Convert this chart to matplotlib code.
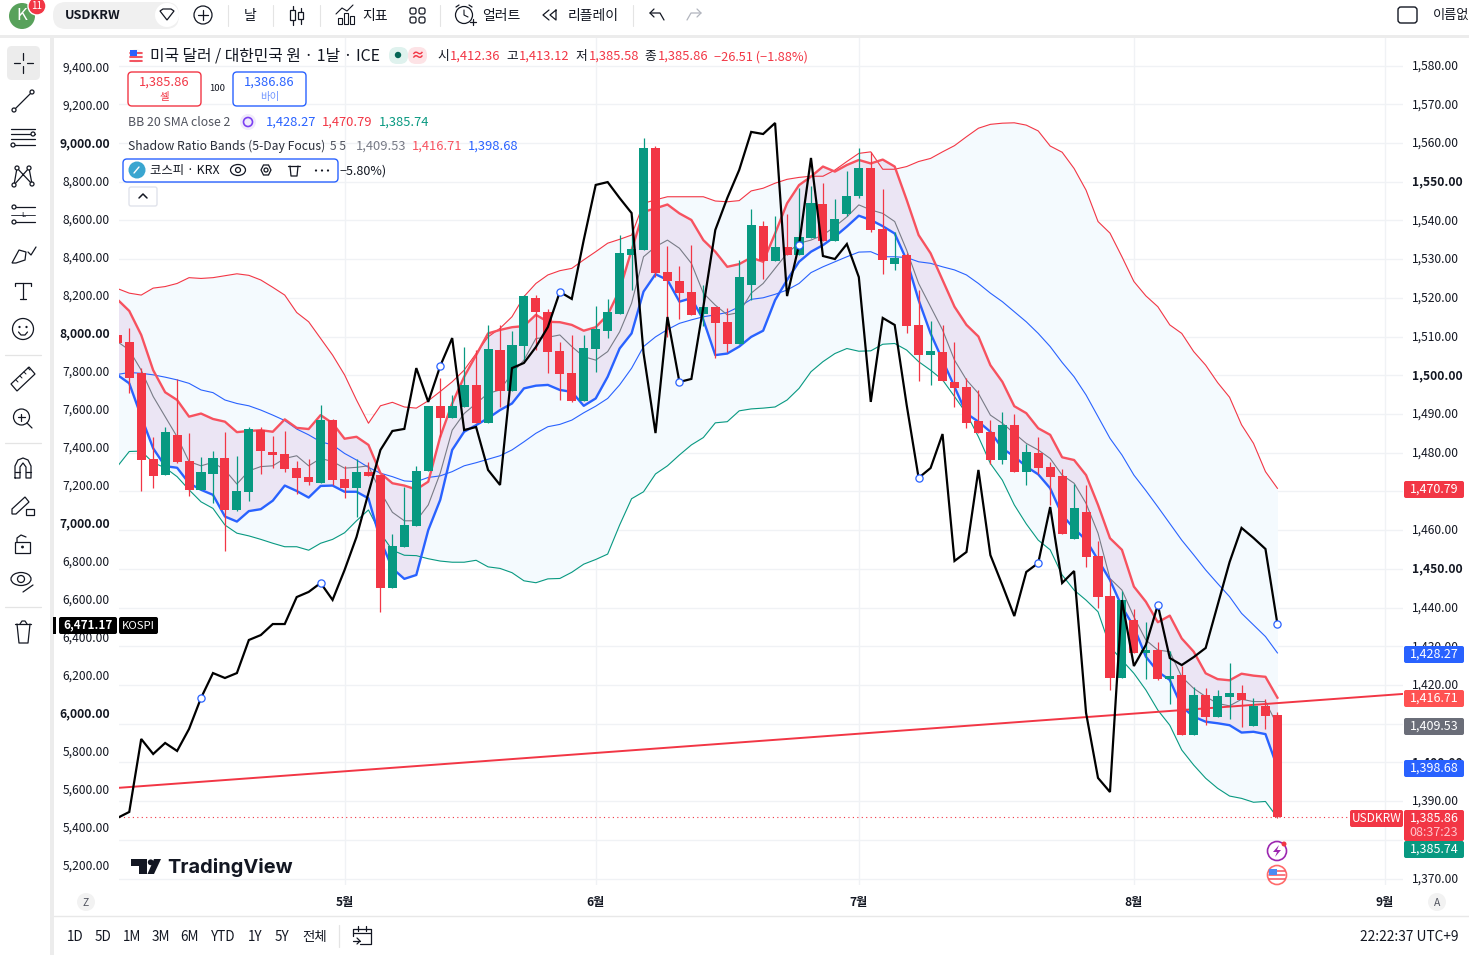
import matplotlib
matplotlib.use("Agg")
import matplotlib.pyplot as plt
from matplotlib.patches import FancyBboxPatch, Circle, Rectangle, Polygon, Ellipse
from matplotlib.transforms import ScaledTranslation

plt.rcParams['font.family'] = ['Noto Sans CJK KR', 'DejaVu Sans']

# ---------- data ----------
opens = [1510.4,1508.6,1500.5,1478.3,1474.3,1484.5,1477.8,1470.4,1474.6,1478.6,
 1465.3,1469.9,1485.8,1480.0,1479.6,1476.0,1473.7,1472.2,1488.4,1473.2,
 1470.9,1475.0,1474.3,1445.0,1455.7,1461.0,1475.3,1492.0,1489.0,1491.9,
 1497.5,1487.7,1506.5,1495.9,1507.5,1519.9,1516.3,1506.2,1500.6,1493.3,
 1506.8,1511.4,1515.8,1531.0,1532.3,1558.7,1526.7,1524.3,1521.5,1515.8,
 1517.6,1513.7,1508.1,1523.3,1538.5,1529.5,1533.1,1531.0,1535.4,1544.2,
 1534.7,1541.6,1546.3,1553.5,1537.8,1528.7,1531.0,1513.0,1505.2,1506.0,
 1498.2,1497.0,1488.2,1485.3,1478.1,1487.1,1475.0,1479.9,1476.3,1474.0,
 1457.7,1464.7,1453.3,1443.0,1421.8,1436.8,1428.2,1429.0,1421.5,1422.6,
 1407.1,1417.4,1411.7,1416.9,1417.9,1409.4,1414.6,1412.36]
closes = [1508.4,1499.4,1478.2,1474.0,1485.3,1477.7,1470.4,1475.0,1478.6,1465.3,
 1470.1,1486.1,1480.3,1479.4,1475.8,1473.5,1472.4,1488.4,1472.9,1470.9,
 1475.0,1474.0,1445.0,1455.9,1461.3,1475.3,1492.0,1489.0,1492.0,1497.5,
 1487.7,1506.8,1495.9,1507.8,1520.4,1516.3,1506.0,1500.3,1493.3,1507.0,
 1511.9,1516.3,1531.6,1532.6,1558.7,1526.4,1524.3,1521.2,1515.6,1517.6,
 1513.5,1508.1,1525.4,1538.8,1529.5,1533.1,1531.0,1535.7,1544.5,1534.7,
 1540.3,1546.3,1553.5,1537.5,1529.7,1530.3,1512.7,1505.2,1506.2,1498.5,
 1496.7,1487.7,1485.1,1478.1,1487.1,1475.0,1480.2,1476.0,1473.7,1459.0,
 1465.7,1453.0,1442.7,1421.8,1441.9,1428.2,1429.0,1421.5,1422.3,1407.1,
 1417.4,1411.7,1417.1,1417.9,1416.1,1414.6,1412.0,1385.86]
highs = [1511,1512.1,1501.8,1484.1,1486.5,1498.9,1485.0,1478.8,1480.3,1485.3,
 1479.1,1486.5,1486.5,1484.3,1485.6,1477.8,1478.3,1492.3,1488.7,1476.5,
 1478.3,1477.7,1474.3,1459.0,1471.0,1476.5,1492.0,1499.2,1494.8,1507.2,
 1506.5,1512.9,1512.9,1511.5,1520.7,1520.7,1517.1,1508.6,1510.4,1510.4,
 1517.9,1519.7,1536.2,1541.0,1561.3,1559.2,1533.4,1528.2,1533.6,1523.3,
 1517.6,1517.4,1529.8,1542.9,1539.8,1541.1,1541.6,1548.3,1548.9,1549.6,
 1545.5,1552.7,1558.7,1557.7,1548.1,1537.0,1531.5,1522.0,1514.0,1513.0,
 1508.6,1499.2,1496.2,1488.4,1490.5,1490.0,1482.2,1484.0,1477.6,1475.8,
 1471.9,1471.6,1457.2,1447.4,1444.3,1439.6,1436.2,1431.1,1428.8,1424.9,
 1419.5,1419.2,1418.7,1425.7,1420.0,1416.6,1416.4,1413.12]
lows = [1508,1495.3,1470.2,1470.9,1474.3,1477.4,1468.9,1470.4,1467.1,1454.7,
 1464.8,1467.6,1474.6,1476.1,1475.1,1469.3,1471.6,1472.2,1471.6,1468.4,
 1463.5,1474.0,1438.9,1445.0,1455.7,1461.0,1475.3,1484.0,1489.0,1491.9,
 1487.7,1487.7,1491.9,1495.9,1503.9,1506.5,1500.6,1493.6,1493.1,1493.3,
 1500.8,1509.6,1515.8,1522.0,1532.3,1525.4,1510.0,1514.5,1515.6,1512.6,
 1504.4,1506.1,1508.1,1519.4,1524.9,1529.5,1531.0,1531.0,1535.4,1534.7,
 1534.7,1541.1,1545.8,1537.0,1526.1,1527.2,1510.9,1498.5,1497.5,1498.5,
 1491.8,1486.4,1485.1,1477.1,1477.1,1475.0,1471.6,1474.5,1466.5,1459.0,
 1457.7,1450.5,1439.9,1418.7,1421.8,1428.2,1421.5,1421.3,1415.1,1407.1,
 1407.1,1409.6,1411.7,1411.2,1409.1,1409.4,1408.6,1385.58]

bb_upper = [1522.4,1521.2,1520.7,1522.5,1522.9,1523.7,1525.2,1525.0,1525.2,1525.7,
 1526.2,1525.8,1524.6,1522.7,1520.7,1516.2,1513.8,1509.5,1505.2,1500.1,
 1493.6,1487.6,1492.1,1493.0,1491.8,1491.5,1493.4,1495.8,1498.3,1501.3,
 1505.6,1509.9,1512.1,1515.1,1520.3,1523.7,1525.9,1527.0,1527.6,1529.8,
 1531.9,1534.1,1535.1,1536.2,1544.4,1545.3,1546.1,1546.1,1546.1,1546.1,
 1545.0,1544.8,1545.1,1547.6,1548.3,1549.6,1550.6,1551.1,1551.4,1551.4,
 1553.0,1555.2,1557.3,1557.7,1553.2,1553.2,1553.9,1555.2,1556.0,1557.7,
 1559.3,1561.6,1563.8,1564.8,1565.1,1565.2,1564.6,1563.1,1559.2,1557.6,
 1553.4,1547.8,1539.7,1536.7,1530.6,1524.2,1520.5,1517.7,1513.0,1510.8,
 1506.1,1502.6,1498.1,1494.3,1487.2,1482.4,1475.1,1470.79]
bb_basis = [1500.2,1500.7,1500.5,1500.1,1499.5,1498.8,1497.9,1496.2,1495.5,1493.6,
 1492.7,1492.1,1491.0,1489.7,1488.3,1486.1,1484.6,1482.8,1482.0,1479.8,
 1478.1,1476.2,1474.7,1473.8,1472.7,1472.5,1473.6,1474.0,1475.1,1476.6,
 1477.4,1478.3,1479.2,1480.7,1482.8,1485.0,1486.7,1487.3,1488.4,1490.3,
 1492.0,1494.0,1497.5,1501.8,1507.4,1509.9,1511.8,1513.4,1514.3,1515.1,
 1515.6,1516.2,1517.7,1519.6,1520.0,1520.9,1522.0,1523.7,1526.5,1528.0,
 1529.3,1530.6,1531.8,1531.9,1530.6,1530.6,1530.4,1529.3,1528.9,1528.0,
 1527.2,1525.9,1523.7,1521.2,1519.0,1516.4,1513.8,1510.8,1507.4,1503.3,
 1499.6,1494.9,1489.3,1483.7,1479.4,1474.2,1470.2,1466.0,1461.7,1457.4,
 1453.6,1449.7,1446.2,1442.8,1438.5,1435.5,1432.5,1428.27]
bb_lower = [1476.4,1480.3,1480.4,1477.4,1476.1,1473.8,1470.4,1467.3,1465.6,1461.3,
 1459.2,1458.5,1457.6,1456.6,1455.7,1455.7,1454.8,1456.6,1457.6,1459.3,
 1462.4,1465.2,1459.2,1454.8,1453.5,1453.4,1452.6,1452.0,1451.7,1451.7,
 1452.2,1450.5,1450.1,1449.0,1446.9,1446.4,1447.4,1447.5,1449.1,1451.2,
 1452.4,1453.8,1461.3,1468.1,1469.9,1474.5,1476.6,1479.4,1482.0,1483.9,
 1487.7,1488.0,1490.8,1491.3,1491.5,1491.8,1493.6,1496.6,1500.9,1503.5,
 1505.6,1506.9,1506.2,1506.3,1508.0,1508.2,1506.5,1503.5,1501.3,1498.8,
 1494.5,1490.1,1484.1,1477.2,1472.9,1466.5,1461.6,1457.4,1454.9,1448.4,
 1444.5,1441.9,1438.9,1429.9,1426.4,1423.0,1418.7,1413.5,1409.6,1403.2,
 1399.3,1395.9,1393.3,1391.3,1390.7,1389.7,1389.9,1385.74]
sr_upper = [1519.6,1516.6,1510.4,1501.3,1495.6,1493.6,1489.3,1490.1,1488.7,1488.0,
 1485.3,1485.6,1485.8,1485.4,1488.6,1486.4,1486.1,1489.7,1487.6,1483.6,
 1484.1,1482.0,1474.7,1472.1,1471.5,1470.5,1472.5,1484.1,1492.7,1499.6,
 1505.2,1510.8,1511.7,1512.4,1512.7,1515.6,1513.8,1513.7,1513.0,1511.5,
 1512.4,1515.6,1522.0,1532.3,1542.2,1543.1,1544.1,1541.8,1540.1,1534.9,
 1531.9,1528.0,1528.7,1530.4,1529.3,1536.6,1544.4,1549.1,1551.3,1553.9,
 1552.6,1554.3,1555.6,1554.7,1555.7,1553.9,1545.3,1536.2,1531.5,1524.6,
 1517.7,1513.0,1510.0,1502.6,1498.3,1492.0,1490.2,1486.3,1484.6,1478.8,
 1478.1,1474.2,1466.5,1457.9,1454.9,1445.4,1441.5,1436.2,1437.9,1432.0,
 1428.6,1423.0,1421.5,1421.2,1422.9,1422.4,1422.1,1416.71]
sr_lower = [1500.1,1497.9,1489.3,1481.1,1476.5,1476.1,1472.1,1470.4,1469.1,1463.5,
 1462.2,1464.9,1465.4,1467.6,1471.5,1470.1,1468.4,1471.4,1471.5,1469.9,
 1469.9,1468.2,1457.4,1450.1,1447.4,1448.4,1460.0,1467.8,1480.7,1485.4,
 1487.1,1488.9,1491.0,1492.7,1496.6,1497.3,1497.5,1496.2,1495.7,1492.1,
 1494.0,1499.6,1506.9,1510.8,1521.6,1526.1,1524.6,1519.0,1519.9,1514.3,
 1505.2,1505.6,1507.4,1509.9,1511.5,1519.4,1524.6,1529.3,1531.9,1533.6,
 1535.8,1538.4,1541.2,1540.1,1538.5,1536.6,1529.7,1519.4,1510.8,1503.9,
 1497.0,1490.1,1488.0,1485.4,1481.1,1479.0,1476.4,1474.4,1470.8,1463.9,
 1460.4,1457.4,1452.3,1447.1,1440.2,1435.0,1427.3,1423.4,1421.3,1414.4,
 1411.8,1410.5,1410.1,1409.6,1407.7,1407.9,1407.3,1398.68]
sr_mid = [1508.7,1506.5,1501.3,1494.5,1489.3,1484.1,1477.7,1476.6,1477.5,1475.5,
 1471.9,1475.3,1476.4,1476.6,1478.5,1479.2,1476.6,1478.5,1477.7,1476.0,
 1476.2,1476.6,1469.9,1464.6,1462.4,1462.4,1466.5,1474.7,1485.8,1490.1,
 1492.7,1495.3,1496.2,1500.5,1503.9,1509.5,1509.8,1510.4,1507.4,1504.8,
 1503.9,1506.1,1511.2,1518.6,1530.6,1533.2,1534.9,1532.8,1528.9,1521.2,
 1518.1,1515.6,1516.2,1521.2,1523.7,1527.6,1531.5,1534.1,1534.9,1536.2,
 1538.4,1540.9,1544.0,1542.7,1541.8,1539.7,1532.3,1523.7,1517.7,1511.7,
 1503.9,1498.8,1495.3,1489.7,1487.6,1485.0,1482.4,1480.7,1478.5,1474.2,
 1472.1,1466.9,1459.2,1447.5,1444.5,1437.6,1431.6,1429.0,1428.6,1422.1,
 1419.1,1417.0,1415.2,1414.6,1416.3,1415.7,1415.7,1409.53]
kospi = [5450,5482,5866,5787,5845,5803,5919,6082,6213,6187,
 6213,6387,6413,6471,6471,6613,6640,6687,6598,6755,
 6929,7161,7387,7487,7498,7818,7640,7829,7976,7492,
 7508,7282,7203,7818,7845,7929,8034,8219,8182,8492,
 8782,8797,8713,8634,7897,7476,8087,7745,7761,8140,
 8545,8713,8861,9061,9050,9108,8197,8466,8924,8408,
 8392,8471,8297,7640,8082,8045,7624,7240,7292,7471,
 6803,6850,7282,6834,6676,6513,6745,6792,7087,6687,
 6750,6003,5661,5587,6597,6250,6361,6571,6292,6255,
 6297,6345,6571,6797,6977,6924,6866,6471.17]
kospi_marks = [7,17,27,37,47,57,67,77,87,97]
trend_x = [0, 107.6]
trend_y = [1393.4, 1417.7]
month_pos = [19, 40, 62, 85, 106]
month_labels = ['5월', '6월', '7월', '8월', '9월']
right_ticks = [1370 + 10*k for k in range(22)]
left_ticks = [5200 + 200*k for k in range(22)]

RED = '#f23645'; GREEN = '#089981'; BLUE = '#2962ff'; INK = '#131722'

# ---------- figure and axes ----------
W, H = 1469, 955
fig = plt.figure(figsize=(W/100, H/100), dpi=100, facecolor='white')
L, R, T, B = 119, 1403, 38, 885
ax = fig.add_axes([L/W, 1-B/H, (R-L)/W, (B-T)/H])
ax.set_xlim((L-117.3)/11.96, (R-117.3)/11.96)
ax.set_ylim(1596.92-0.2583*B, 1596.92-0.2583*T)
tw = ax.twinx()
tw.set_ylim(9755.3-5.263*B, 9755.3-5.263*T)

for a in (ax, tw):
    for s in a.spines.values():
        s.set_visible(False)
ax.set_axisbelow(True)
ax.yaxis.tick_right()
ax.set_yticks(right_ticks)
hidden_right = {1470, 1410, 1380}
ax.set_yticklabels(['' if v in hidden_right else f'{v:,.2f}' for v in right_ticks], fontsize=8.7, color=INK)
ax.set_xticks(month_pos)
ax.set_xticklabels(month_labels, fontsize=8.7, color=INK, fontweight='bold')
ax.tick_params(axis='y', length=0, pad=6.5)
ax.tick_params(axis='x', length=0, pad=8)
ax.grid(True, color='#f0f2f5', lw=1)
up_one_px = ScaledTranslation(0, 1/100, fig.dpi_scale_trans)
for v, lab in zip(right_ticks, ax.get_yticklabels()):
    lab.set_transform(lab.get_transform() + up_one_px)
    if v % 50 == 0:
        lab.set_fontweight('bold')
tw.yaxis.tick_left()
tw.set_yticks(left_ticks)
tw.set_yticklabels([f'{v:,.2f}' for v in left_ticks], fontsize=8.7, color=INK)
tw.tick_params(axis='y', length=0, pad=6.5)
for v, lab in zip(left_ticks, tw.get_yticklabels()):
    lab.set_transform(lab.get_transform() + up_one_px)
    if v % 1000 == 0:
        lab.set_fontweight('bold')

xs = list(range(len(closes)))
ax.fill_between(xs, bb_lower, bb_upper, color='#f4fafe', lw=0, zorder=1)
ax.fill_between(xs, sr_lower, sr_upper, color='#ebe5f4', lw=0, zorder=1.1)
ax.plot(xs, bb_upper, color=RED, lw=0.8, zorder=2)
ax.plot(xs, bb_basis, color=BLUE, lw=0.8, zorder=2)
ax.plot(xs, bb_lower, color=GREEN, lw=0.8, zorder=2)
ax.plot(xs, sr_mid, color='#787b86', lw=0.8, zorder=2)
ax.plot(xs, sr_upper, color='#f7525f', lw=1.7, zorder=2.1)
ax.plot(xs, sr_lower, color=BLUE, lw=1.7, zorder=2.1)
ax.plot(trend_x, trend_y, color=RED, lw=1.4, zorder=2.2)
ax.axhline(closes[-1], color=RED, lw=0.8, ls=(0, (1, 3)), zorder=2.2)
colors = [GREEN if c >= o else RED for o, c in zip(opens, closes)]
ax.vlines(xs, lows, highs, colors=colors, lw=0.9, zorder=3)
ax.bar(xs, [max(abs(c-o), 0.8) for o, c in zip(opens, closes)],
       bottom=[min(o, c) for o, c in zip(opens, closes)],
       width=0.76, color=colors, lw=0, zorder=3.1)
tw.plot(xs, kospi, color='black', lw=1.6, zorder=5, solid_joinstyle='miter')
tw.plot(kospi_marks, [kospi[i] for i in kospi_marks], ls='', marker='o', ms=5.2,
        mfc='white', mec=BLUE, mew=0.9, zorder=6)

# ---------- interface drawn in pixel coordinates ----------
ui = fig.add_axes([0, 0, 1, 1])
ui.set_xlim(0, W); ui.set_ylim(H, 0); ui.axis('off'); ui.patch.set_alpha(0)

def txt(x, y, s, size=8.7, color=INK, ha='left', **kw):
    return ui.text(x, y + 0.6, s, fontsize=size, color=color, ha=ha, va='center', zorder=7, **kw)
def rrect(x, y, w, h, r=3, fc='white', ec='none', lw=1, z=3):
    ui.add_patch(FancyBboxPatch((x, y), w, h, boxstyle=f'round,pad=0,rounding_size={r}',
                                fc=fc, ec=ec, lw=lw, zorder=z))
def line(pts, lw=0.9, c=INK, z=4):
    ui.plot([p[0] for p in pts], [p[1] for p in pts], color=c, lw=lw, zorder=z,
            solid_capstyle='round')
def circ(x, y, r, fc='none', ec=INK, lw=0.9, z=4):
    ui.add_patch(Circle((x, y), r, fc=fc, ec=ec, lw=lw, zorder=z))
def rect(x, y, w, h, fc='none', ec=INK, lw=0.9, z=4):
    ui.add_patch(Rectangle((x, y), w, h, fc=fc, ec=ec, lw=lw, zorder=z))

# chrome
GAP = '#ececec'
ui.add_patch(Rectangle((0, 35), W, 3.5, fc=GAP, ec='none', zorder=1))
ui.add_patch(Rectangle((50, 35), 4, H-35, fc=GAP, ec='none', zorder=1))
line([(54, 916), (W, 916)], lw=1, c='#e8e8e8', z=1)

# top bar
circ(22, 16, 13, fc='#58a15b', ec='none')
txt(22, 15, 'K', size=12, color='white', ha='center')
circ(37, 6, 9, fc=RED, ec='white', lw=1, z=5)
ui.text(37, 6, '11', fontsize=7, color='white', ha='center', va='center', zorder=7)
rrect(53, 2, 126, 27, r=13, fc='#f0f0f0', z=2)
txt(65, 15, 'USDKRW', size=9.2, fontweight='bold')
circ(167, 15, 12, fc='white', ec='none', z=3)
ui.add_patch(Polygon([(160, 11), (163, 9), (171, 9), (174, 11), (167, 20)], fc='none', ec=INK, lw=0.9, zorder=4))
circ(203, 15, 9)
line([(198, 15), (208, 15)]); line([(203, 10), (203, 20)])
for sx in (228, 273, 320, 440, 633):
    line([(sx, 5), (sx, 26)], c='#e4e4e4', lw=0.8)
txt(250, 15, '날', size=10, ha='center')
line([(293, 6), (293, 25)]); rect(290.5, 10, 5, 10, fc='white', z=5)
line([(301, 8), (301, 24)]); rect(298.5, 12, 5, 7, fc='white', z=5)
for dx, dh in ((338, 6), (344, 11), (350, 8)):
    rect(dx, 24-dh, 4, dh, lw=0.8)
line([(336, 14), (342, 8), (347, 11), (353, 5)], lw=0.8)
txt(362, 15, '지표', size=10)
for gx, gy in ((410, 8), (419, 8), (410, 17), (419, 17)):
    rrect(gx, gy, 6, 6, r=2, fc='none', ec=INK, lw=0.9, z=4)
circ(464, 15, 8.5)
line([(464, 10), (464, 15), (468, 17)], lw=0.8)
line([(456, 7), (459, 5)]); line([(469, 5), (472, 7)])
line([(470, 22), (476, 22)]); line([(473, 19), (473, 25)])
txt(482, 15, '얼러트', size=10)
line([(549, 10), (543, 15), (549, 20)]); line([(556, 10), (550, 15), (556, 20), (556, 10)])
txt(568, 15, '리플레이', size=10)
line([(664, 20), (660, 13), (650, 13)]); line([(654, 9), (650, 13), (654, 17)])
line([(687, 20), (691, 13), (701, 13)], c='#b2b5be'); line([(697, 9), (701, 13), (697, 17)], c='#b2b5be')
rrect(1398, 7, 19, 16, r=3, fc='white', ec=INK, lw=1, z=4)
txt(1433, 15, '이름없', size=9.5)

# left toolbar
rrect(7, 46, 33, 34, r=5, fc='#ececec', z=2)
line([(14, 63), (20, 63)]); line([(27, 63), (33, 63)]); line([(23.5, 53), (23.5, 60)]); line([(23.5, 66), (23.5, 73)])
line([(14, 110), (32, 92)]); circ(14, 110, 2, fc='white'); circ(32, 92, 2, fc='white')
for ly in (129, 134, 139, 145):
    line([(11, ly), (35, ly)])
circ(33, 134, 2, fc='white'); circ(13, 145, 2, fc='white')
line([(14, 185), (17, 168), (32, 184), (29, 168), (14, 185)])
for p in ((14, 185), (17, 168), (32, 184), (29, 168)):
    circ(p[0], p[1], 2, fc='white')
line([(16, 207), (35, 207)]); line([(16, 222), (35, 222)]); line([(11, 215), (35, 215)], lw=0.6)
circ(14, 207, 2, fc='white'); circ(14, 222, 2, fc='white')
txt(23, 214, 'L', size=5.5, ha='center')
ui.add_patch(Polygon([(12, 263), (19, 250), (26, 252), (25, 260), (16, 263)], fc='none', ec=INK, lw=0.9, zorder=4))
line([(28, 252), (31, 255), (36, 247)])
line([(15.5, 286), (15.5, 283), (31.5, 283), (31.5, 286)]); line([(23.5, 283), (23.5, 299)]); line([(20.5, 299), (26.5, 299)])
circ(23, 329, 10.5); circ(19.5, 327, 0.5, fc=INK); circ(26.5, 327, 0.5, fc=INK)
line([(18.5, 332), (21, 335), (25, 335), (27.5, 332)])
line([(5, 355), (41, 355)], c='#e4e4e4')
ui.add_patch(Polygon([(11, 384), (29, 367), (35, 374), (17, 391)], fc='none', ec=INK, lw=0.9, zorder=4))
for t in range(4):
    line([(16+4*t, 380-4*t), (18+4*t, 382-4*t)], lw=0.7)
circ(21.5, 417, 8); line([(27, 423), (32, 428)]); line([(18, 417), (25, 417)]); line([(21.5, 413.5), (21.5, 420.5)])
line([(5, 443), (41, 443)], c='#e4e4e4')
line([(15, 478), (15, 466), (18, 460), (23, 458), (28, 460), (31, 466), (31, 478), (26, 478), (26, 467), (23, 463), (20, 467), (20, 478), (15, 478)])
line([(15, 472), (20, 472)]); line([(26, 472), (31, 472)])
ui.add_patch(Polygon([(12, 509), (25, 497), (29, 502), (16, 514), (12, 514)], fc='none', ec=INK, lw=0.9, zorder=4))
rect(26, 509, 8, 6)
rect(15, 542, 15, 11); line([(17, 542), (17, 538), (21, 535), (26, 537)]); circ(22.5, 547, 0.8, fc=INK)
ui.add_patch(Ellipse((21, 579), 20, 13, fc='none', ec=INK, lw=0.9, zorder=4)); circ(21, 579, 3.5)
line([(23, 592), (33, 585)])
line([(5, 607), (41, 607)], c='#e4e4e4')
line([(15, 624), (31, 624)]); line([(17, 624), (19, 643), (28, 643), (30, 624)]); line([(20, 624), (22, 621), (25, 621), (27, 624)])

# legend block
circ(136, 56, 7, fc='#f7f7f7', ec='none')
for sy in (53, 57, 61):
    line([(130, sy), (142, sy)], lw=1.2, c=RED)
rect(130, 50, 7, 6, fc='#2962ff', ec='none', z=5)
txt(150, 55.5, '미국 달러 / 대한민국 원 · 1날 · ICE', size=11.4)
rrect(389, 47, 19, 17, r=8, fc='#dff2ee', z=2); circ(398, 55, 3.2, fc='#056656', ec='none')
rrect(408, 47, 19, 17, r=8, fc='#fde3e6', z=2)
txt(417.5, 55, '≈', size=10, color=RED, ha='center', fontweight='bold')
for x0, lab, x1, val in ((437, '시', 450, '1,412.36'), (506, '고', 519, '1,413.12'),
                         (575, '저', 589, '1,385.58'), (644, '종', 658, '1,385.86')):
    txt(x0, 56, lab, size=9.2); txt(x1, 56, val, size=9.3, color=RED)
txt(714, 56, '−26.51 (−1.88%)', size=9.2, color=RED)
rrect(128, 72, 73, 34, r=4, fc='white', ec=RED, lw=1)
txt(164.5, 82, '1,385.86', size=9.3, color=RED, ha='center')
txt(164.5, 96, '셀', size=7.5, color=RED, ha='center')
txt(217, 88, '100', size=6.8, ha='center')
rrect(233, 72, 73, 34, r=4, fc='white', ec=BLUE, lw=1)
txt(269.5, 82, '1,386.86', size=9.3, color=BLUE, ha='center')
txt(269.5, 96, '바이', size=7.5, color='#6f94ff', ha='center')
txt(128, 122, 'BB 20 SMA close 2', size=8.9, color='#50535e')
circ(248, 122, 8, fc='#f0ebfb', ec='none', z=3); circ(248, 122, 4.5, ec='#7b3ff2', lw=1.2)
txt(266, 122, '1,428.27', size=9.3, color=BLUE)
txt(322, 122, '1,470.79', size=9.3, color=RED)
txt(379, 122, '1,385.74', size=9.3, color=GREEN)
txt(128, 146, 'Shadow Ratio Bands (5-Day Focus)', size=8.8, color='#2a2e39')
txt(330, 146, '5 5', size=8.7, color='#50535e')
txt(356, 146, '1,409.53', size=9.3, color='#787b86')
txt(412, 146, '1,416.71', size=9.3, color='#f7525f')
txt(468, 146, '1,398.68', size=9.3, color=BLUE)
rrect(123, 159, 215, 23, r=4, fc='white', ec=BLUE, lw=1)
circ(137, 170, 8.5, fc='#3aa6d0', ec='none', z=5)
line([(134, 173), (139, 167)], c='white', lw=1, z=6)
txt(150, 170, '코스피 · KRX', size=8.9)
ui.add_patch(Ellipse((238, 170), 15, 11, fc='none', ec=INK, lw=0.9, zorder=5)); circ(238, 170, 2.5, z=5)
ui.add_patch(Polygon([(261, 170), (263.5, 165), (268.5, 165), (271, 170), (268.5, 175), (263.5, 175)], fc='none', ec=INK, lw=0.9, zorder=5))
circ(266, 170, 2, z=5)
line([(288, 166), (300, 166)], z=5); line([(290, 166), (291, 176), (297, 176), (298, 166)], z=5)
for dx in (316, 322, 328):
    circ(dx, 170.5, 1.1, fc=INK, ec='none', z=5)
txt(340, 170, '−5.80%)', size=9)
rrect(129, 187, 28, 19, r=2, fc='white', ec='#e0e3eb', lw=1)
line([(139, 198), (143, 194), (147, 198)], lw=1.1, z=5)

# logo
ui.add_patch(Polygon([(131, 859), (147, 859), (147, 874), (139, 874), (139, 866), (131, 866)], fc=INK, ec='none', zorder=4))
circ(150.7, 862.3, 2.9, fc=INK, ec='none')
ui.add_patch(Polygon([(154, 859), (161, 859), (154, 874), (147.5, 874)], fc=INK, ec='none', zorder=4))
txt(167.5, 866.5, 'TradingView', size=14.4, family=['Inter', 'DejaVu Sans'], fontweight='bold')

# KOSPI scale tag
rect(53, 617, 3.5, 17, fc='black', ec='none', z=5)
rrect(59, 617, 58, 17, r=2, fc='black', z=5)
ui.text(88, 625, '6,471.17', fontsize=8.4, color='white', ha='center', va='center', zorder=7, fontweight='bold')
rrect(119, 617, 39, 17, r=2, fc='black', z=5)
ui.text(138.5, 625.5, 'KOSPI', fontsize=8.2, color='white', ha='center', va='center', zorder=7)

# right scale tags
def tag(y, h, s, fc, sub=None):
    ui.add_patch(FancyBboxPatch((1404, y), 60, h, boxstyle='round,pad=0,rounding_size=2', fc=fc, ec='none', zorder=5))
    ui.text(1434, y + (8.5 if h > 17 else h/2), s, fontsize=9, color='white', ha='center', va='center', zorder=7)
    if sub:
        ui.text(1434, y + 22, sub, fontsize=9, color='#ffc4cb', ha='center', va='center', zorder=7)
tag(481, 17, '1,470.79', RED)
tag(646, 17, '1,428.27', BLUE)
tag(690, 17, '1,416.71', '#ff5252')
tag(718, 17, '1,409.53', '#6a6d78')
tag(760, 17, '1,398.68', BLUE)
tag(810, 31, '1,385.86', RED, sub='08:37:23')
tag(841, 17, '1,385.74', GREEN)
rrect(1350, 810, 53, 17, r=2, fc=RED, z=5)
ui.text(1376.5, 818.5, 'USDKRW', fontsize=8.6, color='white', ha='center', va='center', zorder=7)

# event icons
circ(1277, 851, 9.5, fc='white', ec='#9c27b0', lw=1.2, z=5)
ui.add_patch(Polygon([(1279, 845), (1273, 852), (1277, 852), (1275, 857), (1281, 850), (1277, 850)], fc='#9c27b0', ec='none', zorder=6))
circ(1284, 844, 2.5, fc=RED, ec='none', z=6)
circ(1277, 875, 9.5, fc='white', ec='#ff6b6b', lw=1.2, z=5)
for sy in (871, 875, 879):
    line([(1269, sy), (1285, sy)], c='#f7525f', lw=1.1, z=6)
rect(1269, 869, 8, 6, fc='#4c8bf5', ec='none', z=7)

# axis corner buttons
circ(86, 902, 9, fc='#f2f2f2', ec='none'); txt(86, 902, 'Z', size=7.5, color='#50535e', ha='center')
circ(1437, 902, 9, fc='#f2f2f2', ec='none'); txt(1437, 902, 'A', size=7.5, color='#50535e', ha='center')

# bottom bar
for bx, lab in ((75, '1D'), (103, '5D'), (132, '1M'), (161, '3M'), (190, '6M'), (223, 'YTD'),
                (255, '1Y'), (282, '5Y'), (315, '전체')):
    txt(bx, 936, lab, size=9.7, ha='center')
line([(339, 925), (339, 947)], c='#e4e4e4')
line([(353, 936), (353, 929), (371, 929), (371, 944), (360, 944)])
line([(353, 933), (371, 933)]); line([(358, 926), (358, 931)]); line([(366, 926), (366, 931)])
line([(353, 941), (360, 941)]); line([(357, 938), (360, 941), (357, 944)])
txt(1459, 936, '22:22:37 UTC+9', size=9.9, ha='right')

fig.savefig('out.png', dpi=100)
